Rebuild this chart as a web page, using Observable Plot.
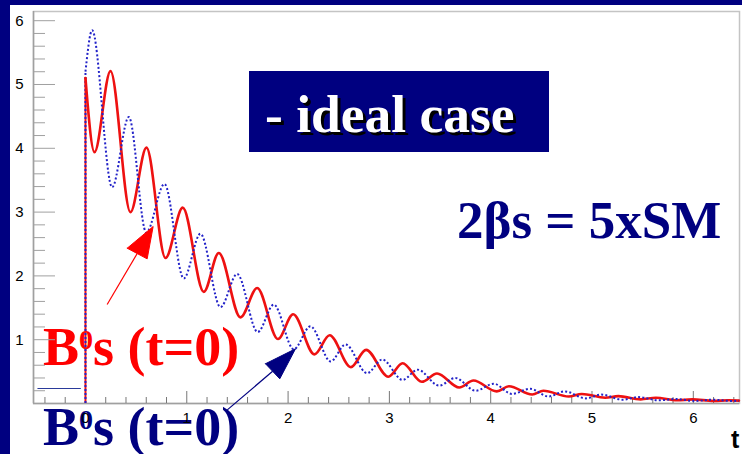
<!DOCTYPE html>
<html>
<head>
<meta charset="utf-8">
<script src="https://cdn.jsdelivr.net/npm/d3@7"></script>
<script src="https://cdn.jsdelivr.net/npm/@observablehq/plot@0.6"></script>
<style>
  html, body { margin: 0; padding: 0; }
  body { width: 742px; height: 454px; background: #000080; position: relative; overflow: hidden; }
  #panel { position: absolute; left: 10px; top: 5px; width: 732px; height: 449px; background: #fff; }
  .big { position: absolute; font-family: "Liberation Serif", "Times New Roman", serif; font-weight: bold;
         line-height: 1; white-space: nowrap; margin: 0; }
  .sup { font-size: 28px; position: relative; top: -16px; }
  #ideal { position: absolute; left: 249px; top: 71px; width: 300px; height: 81px; background: #000080; }
  #ideal .big { left: 16px; top: 17px; font-size: 53.5px; color: #fff; text-shadow: 3px 3px 0 #000; }
  #beta { left: 457px; top: 194px; font-size: 53px; color: #000080; }
  #redlab { left: 43px; top: 320px; font-size: 54px; color: #ff0000; }
  #bluelab { left: 43px; top: 400px; font-size: 54px; color: #000080; }
  #tlab { position: absolute; left: 731px; top: 427px; font: bold 25px/1 "Liberation Sans", Arial, sans-serif; color: #000; }
  #chart { position: absolute; left: 0; top: 0; }
</style>
</head>
<body>
<div id="panel"></div>
<div id="ideal"><div class="big">- ideal case</div></div>
<div class="big" id="beta">2βs = 5xSM</div>
<div class="big" id="redlab">B<span class="sup">0</span>s (t=0)</div>
<div class="big" id="bluelab">B<span class="sup">0</span>s (t=0)</div>
<div id="tlab">t</div>
<div id="chart"></div>
<script>
// Proper decay time t (ps): turning points of each tagged rate curve
const tRed = [0, 0.089, 0.247, 0.444, 0.602, 0.79, 0.96, 1.168, 1.316, 1.53, 1.695, 1.9, 2.05, 2.26, 2.41,
  2.62, 2.77, 2.99, 3.13, 3.32, 3.47, 3.69, 3.83, 4.06, 4.18, 4.41, 4.52, 4.77, 4.90, 5.13, 5.26, 5.48,
  5.63, 5.84, 5.99, 6.2, 6.35, 6.45];
const yRed = [5.1, 3.94, 5.21, 3.0, 4.01, 2.28, 3.07, 1.75, 2.36, 1.35, 1.81, 1.01, 1.40, 0.77, 1.07,
  0.57, 0.84, 0.42, 0.63, 0.34, 0.47, 0.25, 0.36, 0.19, 0.27, 0.14, 0.20, 0.11, 0.15, 0.09, 0.115, 0.065,
  0.09, 0.05, 0.065, 0.04, 0.05, 0.045];

const tBlue = [0, 0.066, 0.263, 0.428, 0.60, 0.78, 0.97, 1.135, 1.333, 1.497, 1.70, 1.859, 2.056, 2.221,
  2.42, 2.567, 2.78, 2.93, 3.13, 3.28, 3.49, 3.65, 3.85, 4.03, 4.21, 4.39, 4.57, 4.73, 4.94, 5.09, 5.30,
  5.46, 5.66, 5.82, 6.02, 6.18, 6.38, 6.45];
const yBlue = [5.2, 5.85, 3.39, 4.49, 2.68, 3.44, 1.96, 2.66, 1.51, 2.03, 1.12, 1.55, 0.85, 1.21,
  0.66, 0.925, 0.475, 0.69, 0.37, 0.53, 0.28, 0.40, 0.20, 0.31, 0.15, 0.23, 0.11, 0.19, 0.08, 0.14, 0.06,
  0.10, 0.05, 0.07, 0.04, 0.06, 0.04, 0.045];

// short blue level drawn before t = 0
const preT = [-0.47, -0.05];
const preY = [0.235, 0.235];

// tick labels
const xTickLabels = [0, 1, 2, 3, 4, 5, 6];
const yTickLabels = [1, 2, 3, 4, 5, 6];

// annotation arrows (tail, head corners, tip) in data units
const redArrowT = [0.214, 0.412, 0.609, 0.668];
const redArrowY = [1.552, 2.434, 2.267, 2.774];
const blueArrowT = [1.40, 1.777, 1.918, 2.073];
const blueArrowY = [-0.10, 0.623, 0.387, 0.857];

const W = 742, H = 454;
const mL = 33, mR = 3, mT = 11, mB = 51;
const innerW = W - mL - mR, innerH = H - mT - mB;
const xDomain = [-0.513, 6.456], yDomain = [0, 6.144];

const red = tRed.map((t, i) => ({t, y: yRed[i]}));
const blue = tBlue.map((t, i) => ({t, y: yBlue[i]}));
const pre = preT.map((t, i) => ({t, y: preY[i]}));

function arrowParts(T, Y) {
  const base = {t: (T[1] + T[2]) / 2, y: (Y[1] + Y[2]) / 2};
  return {
    shaft: [{t1: T[0], y1: Y[0], t2: base.t, y2: base.y}],
    head: [1, 2, 3, 1].map(i => ({t: T[i], y: Y[i]}))
  };
}
const ra = arrowParts(redArrowT, redArrowY);
const ba = arrowParts(blueArrowT, blueArrowY);

// tick positions every 0.2
const xMinor = d3.range(-2, 33).map(i => Math.round(i * 2) / 10).filter(v => !Number.isInteger(v) && v > xDomain[0] && v < xDomain[1]);
const yMinor = d3.range(1, 31).map(i => Math.round(i * 2) / 10).filter(v => !Number.isInteger(v));
const yMajor = [0, ...yTickLabels];

const RED = "#ee1111", BLUE = "#2222c8", GRID = "#a0a0a0";

const chart = Plot.plot({
  width: W, height: H,
  marginLeft: mL, marginRight: mR, marginTop: mT, marginBottom: mB,
  style: {background: "transparent", fontFamily: "'Liberation Sans', Arial, sans-serif"},
  x: {domain: xDomain, axis: null},
  y: {domain: yDomain, axis: null},
  marks: [
    Plot.frame({stroke: "#c4c4c4", strokeWidth: 1.5}),
    Plot.ruleX([xDomain[0]], {stroke: GRID, strokeWidth: 1.5}),
    Plot.ruleY([0], {stroke: GRID, strokeWidth: 1.5}),
    Plot.ruleY(yMinor, {stroke: GRID, insetRight: innerW - 12}),
    Plot.ruleY(yMajor, {stroke: GRID, insetRight: innerW - 22}),
    Plot.ruleX(xMinor, {stroke: "#777", insetTop: innerH - 6}),
    Plot.ruleX(xTickLabels, {stroke: "#777", insetTop: innerH - 12}),
    Plot.axisX(xTickLabels, {tickSize: 0, tickPadding: 9, fontSize: 15, fill: "#000", tickFormat: d => String(d)}),
    Plot.axisY(yTickLabels, {tickSize: 0, tickPadding: 10, fontSize: 15, fill: "#000", tickFormat: d => String(d)}),
    Plot.line(pre, {x: "t", y: "y", stroke: "#2a3a9a", strokeWidth: 1}),
    // rise at t = 0
    Plot.ruleX([red[0]], {x: "t", y1: 0, y2: "y", stroke: RED, strokeWidth: 2}),
    Plot.ruleX([blue[0]], {x: "t", y1: 0, y2: "y", stroke: BLUE, strokeWidth: 2, strokeDasharray: "2,2"}),
    Plot.line(red, {x: "t", y: "y", stroke: RED, strokeWidth: 2.6, curve: "monotone-x"}),
    Plot.line(blue, {x: "t", y: "y", stroke: BLUE, strokeWidth: 2, strokeDasharray: "2,2.2", strokeLinecap: "butt", curve: "monotone-x"}),
    // arrows
    Plot.link(ra.shaft, {x1: "t1", y1: "y1", x2: "t2", y2: "y2", stroke: "#ff0000", strokeWidth: 1.2}),
    Plot.line(ra.head, {x: "t", y: "y", fill: "#ff0000", stroke: "#ff0000", strokeWidth: 1}),
    Plot.link(ba.shaft, {x1: "t1", y1: "y1", x2: "t2", y2: "y2", stroke: "#000080", strokeWidth: 1.2}),
    Plot.line(ba.head, {x: "t", y: "y", fill: "#000080", stroke: "#000080", strokeWidth: 1})
  ]
});
document.getElementById("chart").appendChild(chart);
</script>
</body>
</html>
